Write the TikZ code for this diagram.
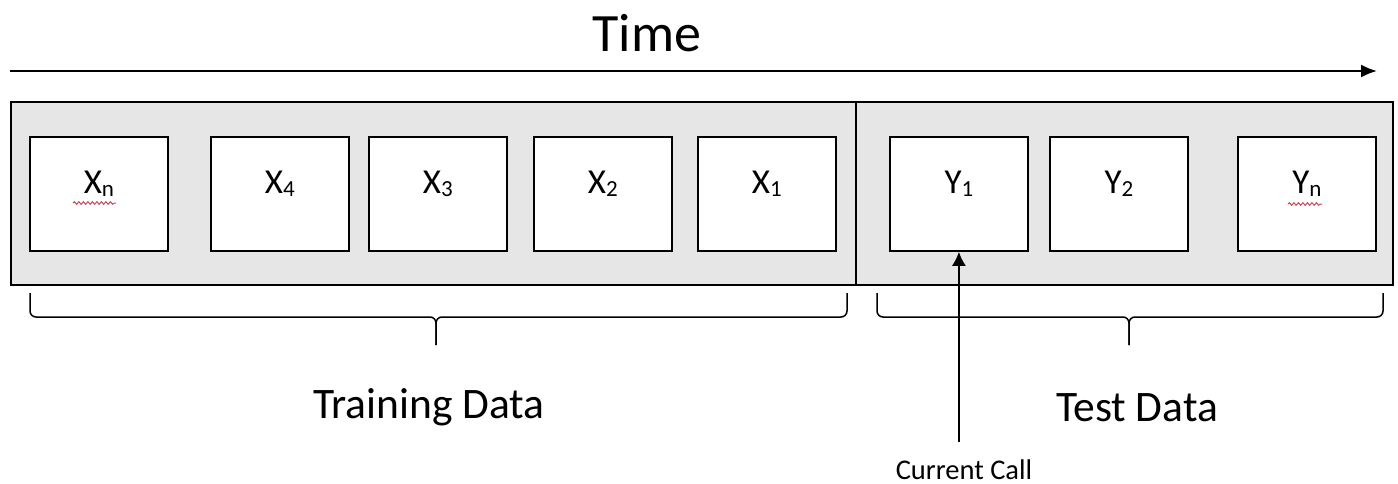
\documentclass[tikz,border=0pt]{standalone}
\usepackage{fontspec}
\setmainfont{Carlito}
\usetikzlibrary{arrows.meta,decorations.pathmorphing}
\definecolor{panelgray}{RGB}{231,230,230}
\definecolor{spellred}{RGB}{205,70,90}
\newcommand{\mysub}[1]{\raisebox{-3pt}{\fontsize{23}{23}\selectfont #1}}
\tikzset{
  panel/.style={draw=black, fill=panelgray, line width=1.8pt, anchor=north west, minimum height=183pt, inner sep=0pt},
  cell/.style={draw=black, fill=white, line width=1.8pt, anchor=north west, minimum width=138pt, minimum height=114pt, inner sep=0pt, text height=12pt, text depth=12pt, font=\fontsize{35}{35}\selectfont},
  bracepath/.style={draw=black, line width=1.5pt, rounded corners=6pt},
  timearrow/.style={draw=black, line width=2pt, -{Latex[length=16pt,width=13pt]}},
  callarrow/.style={draw=black, line width=1.8pt, -{Latex[length=14pt,width=14pt]}},
  spell/.style={draw=spellred, line width=1pt, decorate, decoration={snake, amplitude=1.3pt, segment length=4.5pt}},
  bigtitle/.style={font=\fontsize{54}{54}\selectfont, anchor=base, inner sep=0pt},
  grouplabel/.style={font=\fontsize{43.5}{43.5}\selectfont, anchor=base, inner sep=0pt},
  smalllabel/.style={font=\fontsize{28.5}{28.5}\selectfont, anchor=base, inner sep=0pt}
}
\begin{document}
\begin{tikzpicture}[x=1pt,y=-1pt]
\useasboundingbox (0,0) rectangle (1398,484);
% title and time arrow
\node[bigtitle] (time) at (647,52) {Time};
\coordinate (tstart) at (10,71);
\coordinate (tend) at (1377,71);
\draw[timearrow] (tstart) -- (tend);
% panels
\node[panel, minimum width=845pt] (train) at (10,101) {};
\node[panel, minimum width=537pt] (test) at (855,101) {};
% cells
\node[cell] (xn) at (29,136) {X\mysub{n}};
\node[cell] (x4) at (210,136) {X\mysub{4}};
\node[cell] (x3) at (368,136) {X\mysub{3}};
\node[cell] (x2) at (533,136) {X\mysub{2}};
\node[cell] (x1) at (697,136) {X\mysub{1}};
\node[cell] (y1) at (889,136) {Y\mysub{1}};
\node[cell] (y2) at (1049,136) {Y\mysub{2}};
\node[cell] (yn) at (1237,136) {Y\mysub{n}};
% spell-check squiggles
\draw[spell] (73,203) -- (116,203);
\draw[spell] (1288,204) -- (1322,204);
% braces
\draw[bracepath] (30,293) -- (30,317) -- (436,317) -- (436,345);
\draw[bracepath] (847,293) -- (847,317) -- (436,317) -- (436,345);
\draw[bracepath] (877,293) -- (877,317) -- (1129,317) -- (1129,345);
\draw[bracepath] (1383,293) -- (1383,317) -- (1129,317) -- (1129,345);
% group labels
\node[grouplabel] (trainlbl) at (429,418) {Training Data};
\node[grouplabel] (testlbl) at (1137,421) {Test Data};
% current call
\node[smalllabel] (cc) at (964,479) {Current Call};
\draw[callarrow] ([yshift=37pt]cc.base -| y1.south) -- (y1.south);
\end{tikzpicture}
\end{document}
